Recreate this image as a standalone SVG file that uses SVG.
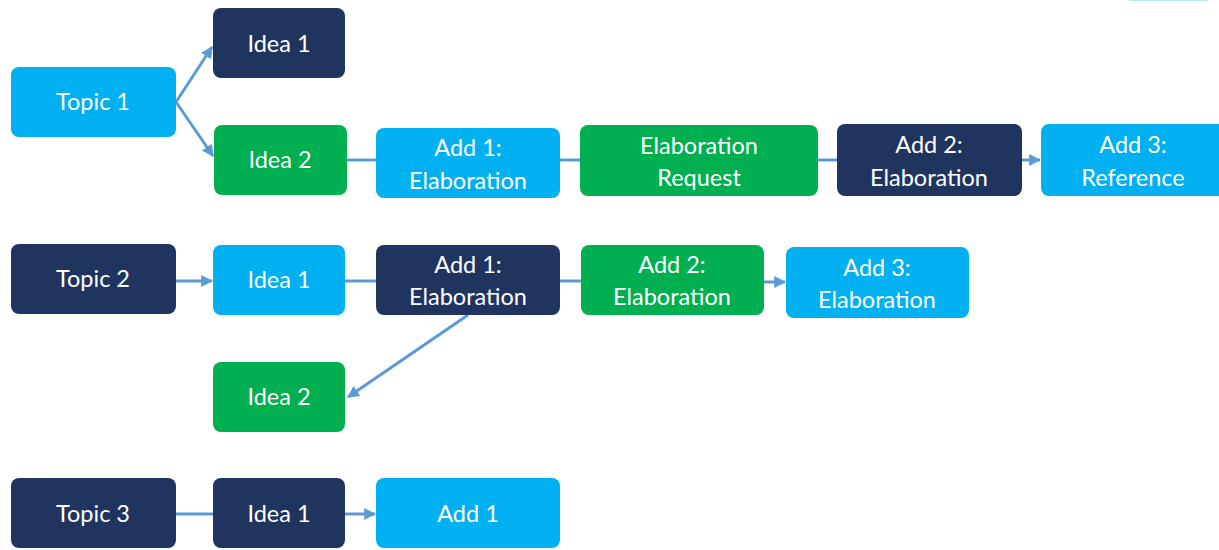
<svg xmlns="http://www.w3.org/2000/svg" width="1219" height="550" viewBox="0 0 1219 550">
<style>
.n rect{rx:8;ry:8}
.cy{fill:#00b0f0}
.nv{fill:#1f3560}
.gr{fill:#00b050}
text{font-family:Lato,"Liberation Sans",sans-serif;font-size:23.5px;fill:#ffffff;text-anchor:middle}
.c{stroke:#5b9bd5;stroke-width:3;fill:none}
</style>
<defs>
<marker id="ah" viewBox="0 0 10 10" refX="9" refY="5" markerWidth="4" markerHeight="4" orient="auto" markerUnits="strokeWidth">
<path d="M0,0L10,5L0,10z" fill="#5b9bd5"/>
</marker>
</defs>
<rect x="1129" y="-4" width="79" height="5" fill="#b4e8f0"/>
<g id="connectors">
<line class="c" x1="176" y1="102" x2="212" y2="47" marker-end="url(#ah)"/>
<line class="c" x1="176" y1="102" x2="213" y2="156" marker-end="url(#ah)"/>
<line class="c" x1="347" y1="160" x2="376" y2="160"/>
<line class="c" x1="560" y1="160" x2="580" y2="160"/>
<line class="c" x1="818" y1="160" x2="837" y2="160"/>
<line class="c" x1="1022" y1="160" x2="1040" y2="160" marker-end="url(#ah)"/>
<line class="c" x1="176" y1="281" x2="212" y2="281" marker-end="url(#ah)"/>
<line class="c" x1="345" y1="281" x2="376" y2="281"/>
<line class="c" x1="560" y1="281" x2="581" y2="281"/>
<line class="c" x1="764" y1="282" x2="785" y2="282" marker-end="url(#ah)"/>
<line class="c" x1="468" y1="315" x2="348" y2="397" marker-end="url(#ah)"/>
<line class="c" x1="176" y1="514" x2="213" y2="514"/>
<line class="c" x1="345" y1="514" x2="375" y2="514" marker-end="url(#ah)"/>
</g>
<g id="topic1" class="n"><rect class="cy" x="11" y="67" width="165" height="70"/><text x="93" y="110">Topic 1</text></g>
<g id="r1-idea1" class="n"><rect class="nv" x="213" y="8" width="132" height="70"/><text x="279" y="52">Idea 1</text></g>
<g id="r1-idea2" class="n"><rect class="gr" x="214" y="125" width="133" height="70"/><text x="280" y="168">Idea 2</text></g>
<g id="r1-add1" class="n"><rect class="cy" x="376" y="128" width="184" height="70"/><text x="468" y="156">Add 1:</text><text x="468" y="189">Elaboration</text></g>
<g id="r1-elabreq" class="n"><rect class="gr" x="580" y="125" width="238" height="71"/><text x="699" y="154">Elaboration</text><text x="699" y="186">Request</text></g>
<g id="r1-add2" class="n"><rect class="nv" x="837" y="124" width="185" height="72"/><text x="929" y="153">Add 2:</text><text x="929" y="186">Elaboration</text></g>
<g id="r1-add3" class="n"><rect class="cy" x="1041" y="124" width="190" height="72"/><text x="1133" y="153">Add 3:</text><text x="1133" y="186">Reference</text></g>
<g id="topic2" class="n"><rect class="nv" x="11" y="244" width="165" height="70"/><text x="93" y="287">Topic 2</text></g>
<g id="r2-idea1" class="n"><rect class="cy" x="213" y="245" width="132" height="70"/><text x="279" y="288">Idea 1</text></g>
<g id="r2-add1" class="n"><rect class="nv" x="376" y="245" width="184" height="70"/><text x="468" y="273">Add 1:</text><text x="468" y="305">Elaboration</text></g>
<g id="r2-add2" class="n"><rect class="gr" x="581" y="245" width="183" height="70"/><text x="672" y="273">Add 2:</text><text x="672" y="305">Elaboration</text></g>
<g id="r2-add3" class="n"><rect class="cy" x="786" y="247" width="183" height="71"/><text x="877" y="276">Add 3:</text><text x="877" y="308">Elaboration</text></g>
<g id="r2-idea2" class="n"><rect class="gr" x="213" y="362" width="132" height="70"/><text x="279" y="405">Idea 2</text></g>
<g id="topic3" class="n"><rect class="nv" x="11" y="478" width="165" height="70"/><text x="93" y="522">Topic 3</text></g>
<g id="r3-idea1" class="n"><rect class="nv" x="213" y="478" width="132" height="70"/><text x="279" y="522">Idea 1</text></g>
<g id="r3-add1" class="n"><rect class="cy" x="376" y="478" width="184" height="70"/><text x="468" y="522">Add 1</text></g>
</svg>
